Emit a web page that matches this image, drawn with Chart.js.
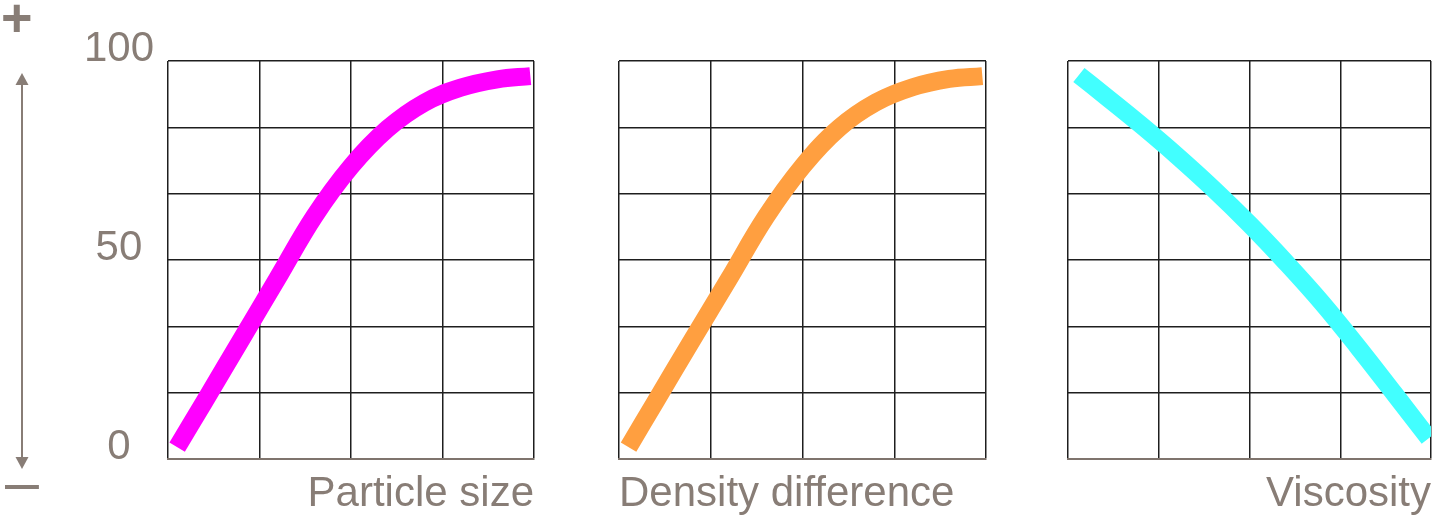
<!DOCTYPE html>
<html>
<head>
<meta charset="utf-8">
<script src="https://cdn.jsdelivr.net/npm/chart.js@4.4.1/dist/chart.umd.min.js"></script>
<style>
  html, body { margin: 0; padding: 0; background: #fff; }
  body { width: 1437px; height: 518px; position: relative; overflow: hidden; font-family: "Liberation Sans", Arial, sans-serif; }
  .panel { position: absolute; top: 0; }
  .sign { position: absolute; color: #887d76; line-height: 1; white-space: nowrap; }
</style>
</head>
<body>
<div class="panel" style="left:0px"><canvas id="c1" width="540" height="518"></canvas></div>
<div class="panel" style="left:580px"><canvas id="c2" width="412" height="518"></canvas></div>
<div class="panel" style="left:1040px"><canvas id="c3" width="397" height="518"></canvas></div>
<div class="sign" style="left:1px; top:-10px; font-size:54px; font-weight:bold;">+</div>
<div class="sign" style="left:5px; top:452px; font-size:61px;">–</div>
<script>
// values (x: 0-100 across each panel, y: 0-100)
const sizeX = [2.5, 10, 20, 30, 40, 50, 60, 70, 80, 90, 99];
const sizeY = [3, 14.5, 30, 45.5, 61, 73.5, 83, 89.5, 93.3, 95.4, 96.2];

const densX = [2.6, 10, 20, 30, 40, 50, 60, 70, 80, 90, 99];
const densY = [3, 14.5, 30, 45.3, 60.8, 73.5, 83.2, 89.6, 93.4, 95.5, 96.2];

const viscX = [3, 10, 20, 30, 40, 50, 60, 70, 80, 90, 99.4];
const viscY = [96.5, 91.4, 84, 76.2, 67.9, 59, 49.4, 39.2, 28, 16.3, 5.2];

const gridY = [0, 100 / 6, 200 / 6, 50, 400 / 6, 500 / 6, 100];
const yLabels = [0, 50, 100];
const titles = ["Particle size", "Density difference", "Viscosity"];

const textColor = "#887d76";
const gridColor = "#1e1e1e";
const fontFamily = "'Liberation Sans', Arial, sans-serif";

// double-headed arrow at the far left
const arrowPlugin = {
  id: "arrow",
  afterDraw(chart) {
    const ctx = chart.ctx;
    const x = 22, top = 73, bottom = 469;
    ctx.save();
    ctx.strokeStyle = textColor;
    ctx.fillStyle = textColor;
    ctx.lineWidth = 2;
    ctx.beginPath();
    ctx.moveTo(x, top + 8);
    ctx.lineTo(x, bottom - 8);
    ctx.stroke();
    ctx.beginPath();
    ctx.moveTo(x, top);
    ctx.lineTo(x - 6.5, top + 12);
    ctx.lineTo(x + 6.5, top + 12);
    ctx.closePath();
    ctx.fill();
    ctx.beginPath();
    ctx.moveTo(x, bottom);
    ctx.lineTo(x - 6.5, bottom - 12);
    ctx.lineTo(x + 6.5, bottom - 12);
    ctx.closePath();
    ctx.fill();
    ctx.restore();
  }
};

function makePanel(id, xs, ys, color, title, titleAlign, yWidth, showLabels, plugins) {
  const points = xs.map((x, i) => ({ x: x, y: ys[i] }));
  return new Chart(document.getElementById(id), {
    type: "line",
    data: {
      datasets: [{
        data: points,
        borderColor: color,
        borderWidth: 18,
        borderCapStyle: "butt",
        pointRadius: 0,
        tension: 0.4,
        fill: false
      }]
    },
    options: {
      responsive: false,
      animation: false,
      layout: { padding: { top: 61, right: 6, left: 0, bottom: 0 } },
      plugins: { legend: { display: false }, tooltip: { enabled: false } },
      scales: {
        x: {
          type: "linear",
          min: 0,
          max: 100,
          ticks: { display: false, stepSize: 25 },
          grid: { color: gridColor, lineWidth: 1.5, drawTicks: false },
          border: { display: true, color: "#7f746d", width: 2 },
          title: {
            display: true,
            text: title,
            align: titleAlign,
            color: textColor,
            font: { family: fontFamily, size: 42, lineHeight: 1 },
            padding: { top: 0, bottom: 3 }
          },
          afterFit(scale) { scale.height = 59; }
        },
        y: {
          type: "linear",
          min: 0,
          max: 100,
          afterBuildTicks(scale) { scale.ticks = gridY.map(v => ({ value: v })); },
          ticks: {
            display: showLabels,
            color: textColor,
            font: { family: fontFamily, size: 42 },
            crossAlign: "center",
            padding: 14,
            labelOffset: -12,
            callback: v => (yLabels.some(l => Math.abs(l - v) < 0.01) ? String(Math.round(v)) : "")
          },
          grid: { color: gridColor, lineWidth: 1.5, drawTicks: false },
          border: { display: false },
          afterFit(scale) { scale.width = yWidth; }
        }
      }
    },
    plugins: plugins || []
  });
}

makePanel("c1", sizeX, sizeY, "#ff00ff", titles[0], "end", 168, true, [arrowPlugin]);
makePanel("c2", densX, densY, "#ff9f40", titles[1], "start", 39, false);
makePanel("c3", viscX, viscY, "#42ffff", titles[2], "end", 28, false);
</script>
</body>
</html>
